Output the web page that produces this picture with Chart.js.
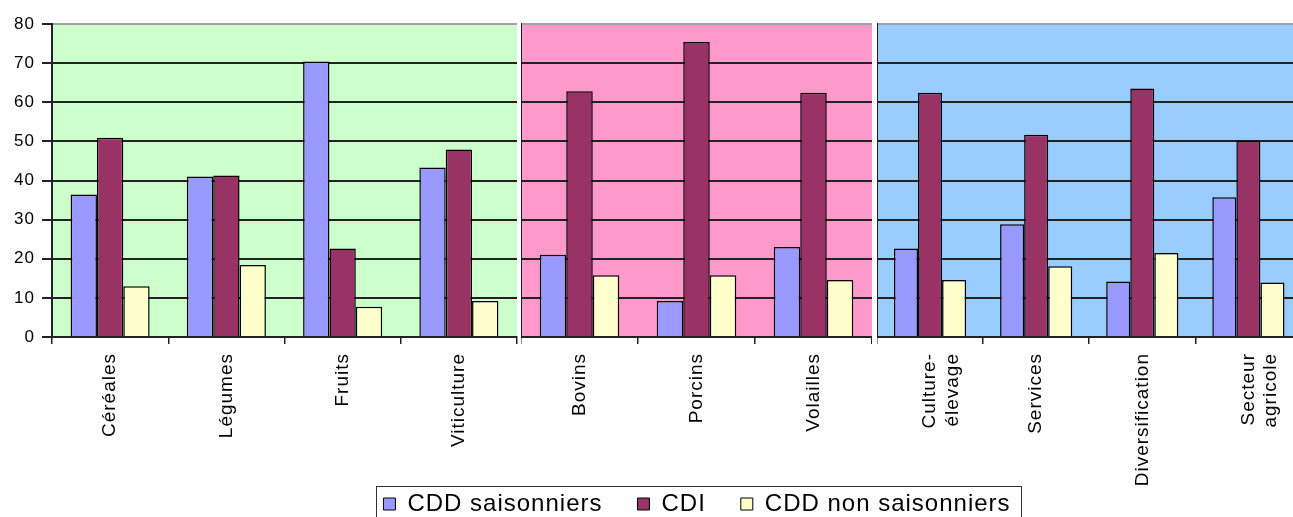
<!DOCTYPE html>
<html lang="fr">
<head>
<meta charset="utf-8">
<title>Répartition des contrats par filière</title>
<script src="https://cdn.jsdelivr.net/npm/chart.js@4.4.1/dist/chart.umd.min.js"></script>
<style>
  html, body { margin: 0; padding: 0; background: #fff; overflow: hidden; }
  #wrap { position: relative; width: 1293px; height: 517px; overflow: hidden; }
  #wrap canvas { position: absolute; }
</style>
</head>
<body>
<div id="wrap">
  <canvas id="cultures" width="518" height="517" style="left:0px;top:0px;width:518px;height:517px"></canvas>
  <canvas id="elevage" width="351" height="517" style="left:521px;top:0px;width:351px;height:517px"></canvas>
  <canvas id="autres" width="426" height="517" style="left:877px;top:0px;width:426px;height:517px"></canvas>
  <canvas id="legende" width="800" height="110" style="left:297px;top:457px;width:800px;height:110px"></canvas>
</div>
<script>
// Groupes de filières (un panneau par groupe)
const culturesLabels = ['Céréales', 'Légumes', 'Fruits', 'Viticulture'];
const elevageLabels = ['Bovins', 'Porcins', 'Volailles'];
const autresLabels = [['Culture-', 'élevage'], 'Services', 'Diversification', ['Secteur', 'agricole']];

// Part de chaque type de contrat (%), dans l'ordre des filières ci-dessus
const cddSaisonniersCultures = [36.4, 41.0, 70.4, 43.3];
const cdiCultures = [50.9, 41.3, 22.6, 47.9];
const cddNonSaisonniersCultures = [13.0, 18.4, 7.7, 9.2];

const cddSaisonniersElevage = [21.0, 9.2, 23.0];
const cdiElevage = [62.8, 75.4, 62.4];
const cddNonSaisonniersElevage = [15.8, 15.8, 14.6];

const cddSaisonniersAutres = [22.6, 28.8, 14.2, 35.7];
const cdiAutres = [62.4, 51.7, 63.5, 50.2];
const cddNonSaisonniersAutres = [14.6, 18.1, 21.5, 13.9];

const seriesNames = ['CDD saisonniers', 'CDI', 'CDD non saisonniers'];
const yTicks = [0, 10, 20, 30, 40, 50, 60, 70, 80];

const seriesColors = ['#9999FF', '#993366', '#FFFFCC'];
const FONT = "'Liberation Sans', Arial, sans-serif";

// Espacement des lettres appliqué au contexte avant mesure et dessin
const letterSpacing = {
  id: 'letterSpacing',
  beforeLayout(chart, args, opts) { chart.ctx.letterSpacing = opts.value || '0px'; },
  beforeDraw(chart, args, opts) { chart.ctx.letterSpacing = opts.value || '0px'; }
};

// Fond coloré de la zone de tracé
const areaFill = {
  id: 'areaFill',
  beforeDraw(chart, args, opts) {
    if (!opts.color) return;
    const a = chart.chartArea;
    const ctx = chart.ctx;
    ctx.save();
    ctx.fillStyle = opts.color;
    ctx.fillRect(a.left, a.top, a.right - a.left, a.bottom - a.top);
    ctx.restore();
  }
};

Chart.register(letterSpacing, areaFill);

function makeDatasets(a, b, c) {
  return [a, b, c].map((values, i) => ({
    label: seriesNames[i],
    data: values,
    backgroundColor: seriesColors[i],
    borderColor: '#000',
    borderWidth: 1.5,
    categoryPercentage: 0.68,
    barPercentage: 1.0
  }));
}

function panel(canvasId, labels, datasets, bg, withAxis, padRight) {
  return new Chart(document.getElementById(canvasId), {
    type: 'bar',
    data: { labels: labels, datasets: datasets },
    options: {
      responsive: false,
      animation: false,
      events: [],
      layout: { padding: { top: 24, right: padRight, bottom: 0, left: 0 } },
      plugins: {
        legend: { display: false },
        tooltip: { enabled: false },
        areaFill: { color: bg },
        letterSpacing: { value: '1px' }
      },
      scales: {
        x: {
          grid: {
            drawOnChartArea: false,
            drawTicks: true,
            tickLength: 7,
            color: '#222',
            lineWidth: 1.5,
            offset: true
          },
          border: { display: true, color: '#222', width: 2 },
          ticks: {
            autoSkip: false,
            maxRotation: 90,
            minRotation: 90,
            padding: 9,
            color: '#000',
            font: { family: FONT, size: 19 }
          },
          afterFit(scale) { scale.height = 180; }
        },
        y: {
          min: 0,
          max: 80,
          afterBuildTicks(scale) { scale.ticks = yTicks.map(v => ({ value: v })); },
          grid: {
            drawTicks: withAxis,
            tickLength: withAxis ? 10 : 0,
            lineWidth: 2,
            color: ctx => (ctx.tick && ctx.tick.value === 80) ? '#a0a0a0' : '#222',
            tickColor: '#222'
          },
          border: { display: true, color: '#222', width: 2 },
          ticks: {
            display: withAxis,
            padding: 7,
            color: '#000',
            font: { family: FONT, size: 17 }
          },
          afterFit(scale) { scale.width = withAxis ? 52 : 0; }
        }
      }
    }
  });
}

panel('cultures', culturesLabels,
  makeDatasets(cddSaisonniersCultures, cdiCultures, cddNonSaisonniersCultures),
  '#CCFFCC', true, 1);
panel('elevage', elevageLabels,
  makeDatasets(cddSaisonniersElevage, cdiElevage, cddNonSaisonniersElevage),
  '#FF99CC', false, 0);
panel('autres', autresLabels,
  makeDatasets(cddSaisonniersAutres, cdiAutres, cddNonSaisonniersAutres),
  '#99CCFF', false, 0);

// Cadre autour de la légende commune
const legendFrame = {
  id: 'legendFrame',
  afterDraw(chart) {
    const boxes = chart.legend && chart.legend.legendHitBoxes;
    if (!boxes || !boxes.length) return;
    const first = boxes[0];
    const last = boxes[boxes.length - 1];
    const ctx = chart.ctx;
    const left = Math.round(first.left - 7) + 0.5;
    const right = Math.round(last.left + last.width + 10) + 0.5;
    const top = Math.round(first.top - 6) + 0.5;
    ctx.save();
    ctx.strokeStyle = '#333';
    ctx.lineWidth = 1;
    ctx.strokeRect(left, top, right - left, chart.height + 10 - top);
    ctx.restore();
  }
};

new Chart(document.getElementById('legende'), {
  type: 'bar',
  data: {
    labels: [],
    datasets: seriesNames.map((name, i) => ({
      label: name,
      data: [],
      backgroundColor: seriesColors[i],
      borderColor: '#000',
      borderWidth: 1
    }))
  },
  options: {
    responsive: false,
    animation: false,
    events: [],
    layout: { padding: 0 },
    scales: { x: { display: false }, y: { display: false } },
    plugins: {
      tooltip: { enabled: false },
      letterSpacing: { value: '1px' },
      legend: {
        display: true,
        position: 'top',
        align: 'center',
        labels: {
          boxWidth: 12,
          boxHeight: 12,
          padding: 35,
          color: '#000',
          font: { family: FONT, size: 24 }
        }
      }
    }
  },
  plugins: [legendFrame]
});
</script>
</body>
</html>
